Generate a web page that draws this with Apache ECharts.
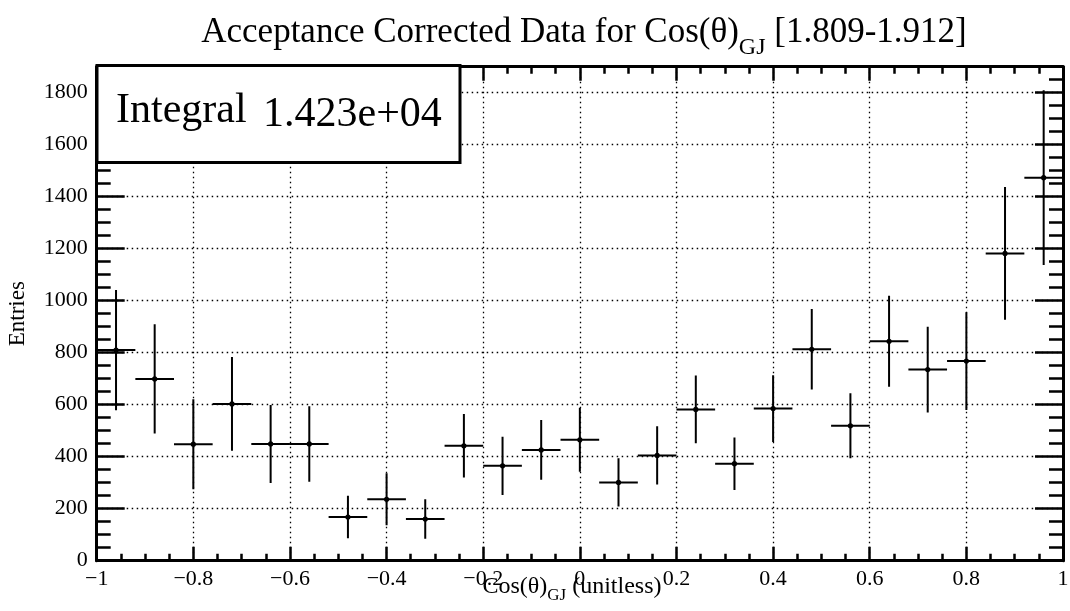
<!DOCTYPE html>
<html>
<head>
<meta charset="utf-8">
<script src="https://cdn.jsdelivr.net/npm/echarts@6/dist/echarts.min.js"></script>
<style>
html,body{margin:0;padding:0;background:#fff;}
#c{width:1070px;height:611px;}
</style>
</head>
<body>
<div id="c"></div>
<script>
// ---- data ----
const binCenters = [-0.96,-0.88,-0.80,-0.72,-0.64,-0.56,-0.48,-0.40,-0.32,-0.24,-0.16,-0.08,0.00,0.08,0.16,0.24,0.32,0.40,0.48,0.56,0.64,0.72,0.80,0.88,0.96];
const binHalfWidth = 0.04;
const entries = [810,699,448,603,449,449,168,236,160,442,365,426,465,301,405,582,373,585,813,519,844,735,768,1182,1473];
const errors  = [231,210,173,180,150,145,82,100,76,122,112,115,123,93,112,130,101,128,155,125,175,165,188,255,336];
const integralLabel = 'Integral';
const integralValue = '1.423e+04';
const titleMain = 'Acceptance Corrected Data for Cos(θ)';
const titleSub = 'GJ';
const titleTail = ' [1.809-1.912]';
const xTitleMain = 'Cos(θ)';
const xTitleSub = 'GJ';
const xTitleTail = ' (unitless)';
const yTitle = 'Entries';

const FONT = 'Liberation Serif';
const data = binCenters.map((x, i) => [x, entries[i], errors[i], binHalfWidth]);

function fmtX(v) {
  const r = +(+v).toFixed(2);
  if (r === 0) return '0';
  return (r < 0 ? '\u2212' : '') + String(Math.abs(r));
}

function xAxisDef(pos, show) {
  return {
    type: 'value', min: -1, max: 1, interval: 0.2, position: pos,
    axisLine: {show: true, onZero: false, lineStyle: {color: '#000', width: 3}},
    axisTick: {show: true, inside: true, length: 14, lineStyle: {color: '#000', width: 2.5}},
    minorTick: {show: true, splitNumber: 4, length: 7, lineStyle: {color: '#000', width: 2.5}},
    splitLine: {show: pos === 'bottom', lineStyle: {color: '#000', width: 1.3, type: [1.5, 3.5]}},
    axisLabel: {show: show, margin: 8, fontFamily: FONT, fontSize: 22, color: '#000', formatter: fmtX,
                showMinLabel: true, showMaxLabel: true}
  };
}
function yAxisDef(pos, show) {
  return {
    type: 'value', min: 0, max: 1900, interval: 200, position: pos,
    axisLine: {show: true, onZero: false, lineStyle: {color: '#000', width: 3}},
    axisTick: {show: true, inside: true, length: 28, lineStyle: {color: '#000', width: 2.5}},
    minorTick: {show: true, splitNumber: 4, length: 14, lineStyle: {color: '#000', width: 2.5}},
    splitLine: {show: pos === 'left', lineStyle: {color: '#000', width: 1.3, type: [1.5, 3.5]}},
    axisLabel: {show: show, margin: 9, fontFamily: FONT, fontSize: 22, color: '#000',
                formatter: v => (v % 200 === 0 ? String(v) : '')},
    name: pos === 'left' ? yTitle : '',
    nameLocation: 'middle', nameGap: 67, nameRotate: 90,
    nameTextStyle: {fontFamily: FONT, fontSize: 23, color: '#000'}
  };
}

const chart = echarts.init(document.getElementById('c'), null, {renderer: 'canvas'});
chart.setOption({
  animation: false,
  backgroundColor: '#fff',
  grid: {left: 96.7, right: 7, top: 66.7, bottom: 50.3, containLabel: false, outerBoundsMode: 'none'},
  xAxis: [xAxisDef('bottom', true), xAxisDef('top', false)],
  yAxis: [yAxisDef('left', true), yAxisDef('right', false)],
  series: [{
    type: 'custom',
    xAxisIndex: 0, yAxisIndex: 0,
    data: data,
    clip: true,
    renderItem: function (params, api) {
      const x = api.value(0), y = api.value(1), e = api.value(2), hw = api.value(3);
      const c = api.coord([x, y]);
      const lo = api.coord([x, y - e]);
      const hi = api.coord([x, y + e]);
      const l = api.coord([x - hw, y]);
      const r = api.coord([x + hw, y]);
      return {
        type: 'group',
        children: [
          {type: 'line', shape: {x1: lo[0], y1: lo[1], x2: hi[0], y2: hi[1]}, style: {stroke: '#000', lineWidth: 2}},
          {type: 'line', shape: {x1: l[0], y1: l[1], x2: r[0], y2: r[1]}, style: {stroke: '#000', lineWidth: 2}},
          {type: 'circle', shape: {cx: c[0], cy: c[1], r: 2.6}, style: {fill: '#000'}}
        ]
      };
    }
  }],
  graphic: [
    {type: 'rect', z: 100, shape: {x: 97, y: 65.5, width: 363, height: 97},
     style: {fill: '#fff', stroke: '#000', lineWidth: 3}},
    {type: 'text', z: 101, x: 116, y: 111, style: {text: integralLabel, font: '42px "Liberation Serif"', fill: '#000', verticalAlign: 'middle'}},
    {type: 'text', z: 101, x: 263, y: 115, style: {text: integralValue, font: '42px "Liberation Serif"', fill: '#000', verticalAlign: 'middle'}},
    {type: 'text', z: 101, x: 584, y: 33,
     style: {
       text: '{m|' + titleMain + '}{s|' + titleSub + '}{m|' + titleTail + '}',
       align: 'center', verticalAlign: 'middle', fill: '#000',
       rich: {
         m: {fontFamily: FONT, fontSize: 35, fill: '#000'},
         s: {fontFamily: FONT, fontSize: 24, fill: '#000', padding: [30, 0, 0, 0]}
       }
     }},
    {type: 'text', z: 101, x: 572, y: 587,
     style: {
       text: '{m|' + xTitleMain + '}{s|' + xTitleSub + '}{m|' + xTitleTail + '}',
       align: 'center', verticalAlign: 'middle', fill: '#000',
       rich: {
         m: {fontFamily: FONT, fontSize: 24, fill: '#000'},
         s: {fontFamily: FONT, fontSize: 17, fill: '#000', padding: [18, 0, 0, 0]}
       }
     }}
  ]
});
</script>
</body>
</html>
